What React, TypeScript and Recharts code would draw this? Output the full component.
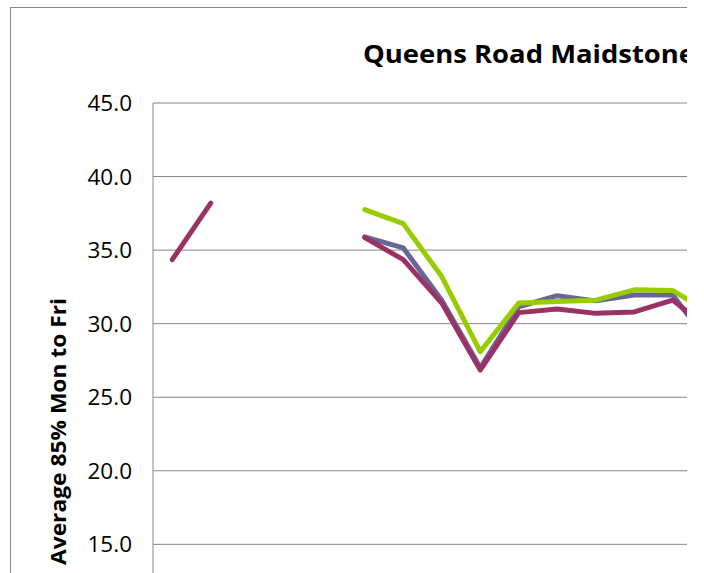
import { LineChart, Line, XAxis, YAxis, CartesianGrid } from 'recharts'

// periods along the x axis (axis itself sits below the visible crop)
const periods = ['1', '2', '3', '4', '5', '6', '7', '8', '9', '10', '11', '12', '13', '14', '15']

const seriesA = [null, null, null, null, null, 35.9, 35.15, 31.6, 27.0, 31.15, 31.9, 31.55, 31.95, 31.95, 28.5]
const seriesB = [34.35, 38.2, null, null, null, 35.85, 34.35, 31.4, 26.85, 30.75, 31.0, 30.7, 30.8, 31.6, 29.5]
const seriesC = [null, null, null, null, null, 37.75, 36.8, 33.2, 28.1, 31.4, 31.5, 31.6, 32.3, 32.25, 30.7]

const yTicks = [0, 5, 10, 15, 20, 25, 30, 35, 40, 45]

const data = periods.map((p, i) => ({
  period: p,
  a: seriesA[i],
  b: seriesB[i],
  c: seriesC[i],
}))

const font = '"Open Sans", "DejaVu Sans", sans-serif'
const gridColor = '#868686'

export default function App() {
  return (
    <div
      style={{
        position: 'absolute',
        left: 0,
        top: 0,
        width: 704,
        height: 573,
        overflow: 'hidden',
        background: '#fff',
      }}
    >
      <div
        style={{
          position: 'absolute',
          left: 0,
          top: 0,
          width: 687,
          height: 573,
          overflow: 'hidden',
        }}
      >
        <div
          style={{
            position: 'absolute',
            left: 10,
            top: 7,
            width: 1000,
            height: 1000,
            border: `1px solid ${gridColor}`,
          }}
        />
        <svg
          width={687}
          height={80}
          style={{ position: 'absolute', left: 0, top: 0 }}
        >
          <text
            x={363}
            y={63}
            fontFamily={font}
            fontWeight={700}
            fontSize={25}
            fill="#000"
            textLength={332}
            lengthAdjust="spacingAndGlyphs"
          >
            Queens Road Maidstone
          </text>
        </svg>
        <div style={{ position: 'absolute', left: 0, top: 0 }}>
          <LineChart
            width={751}
            height={800}
            data={data}
            margin={{ top: 103, right: 20.5, bottom: 5, left: 0 }}
          >
            <CartesianGrid vertical={false} stroke={gridColor} />
            <XAxis
              dataKey="period"
              padding={{ left: 19.25, right: 19.25 }}
              height={30}
              axisLine={{ stroke: gridColor }}
              tickLine={false}
              tick={false}
            />
            <YAxis
              domain={[0, 45]}
              ticks={yTicks}
              width={153}
              tickSize={0}
              tickMargin={21}
              axisLine={{ stroke: gridColor }}
              tickLine={false}
              tickFormatter={(v: number) => v.toFixed(1)}
              tick={{ fontFamily: font, fontSize: 22.5, fill: '#000' }}
              label={{
                content: () => (
                  <text
                    x={66}
                    y={565}
                    transform="rotate(-90 66 565)"
                    fontFamily={font}
                    fontWeight={700}
                    fontSize={21}
                    fill="#000"
                    textLength={267}
                    lengthAdjust="spacingAndGlyphs"
                  >
                    Average 85% Mon to Fri
                  </text>
                ),
              }}
            />
            <Line
              dataKey="a"
              stroke="#666699"
              strokeWidth={5}
              dot={false}
              strokeLinecap="round"
              strokeLinejoin="round"
              isAnimationActive={false}
            />
            <Line
              dataKey="b"
              stroke="#993366"
              strokeWidth={5}
              dot={false}
              strokeLinecap="round"
              strokeLinejoin="round"
              isAnimationActive={false}
            />
            <Line
              dataKey="c"
              stroke="#99cc00"
              strokeWidth={5}
              dot={false}
              strokeLinecap="round"
              strokeLinejoin="round"
              isAnimationActive={false}
            />
          </LineChart>
        </div>
      </div>
    </div>
  )
}
